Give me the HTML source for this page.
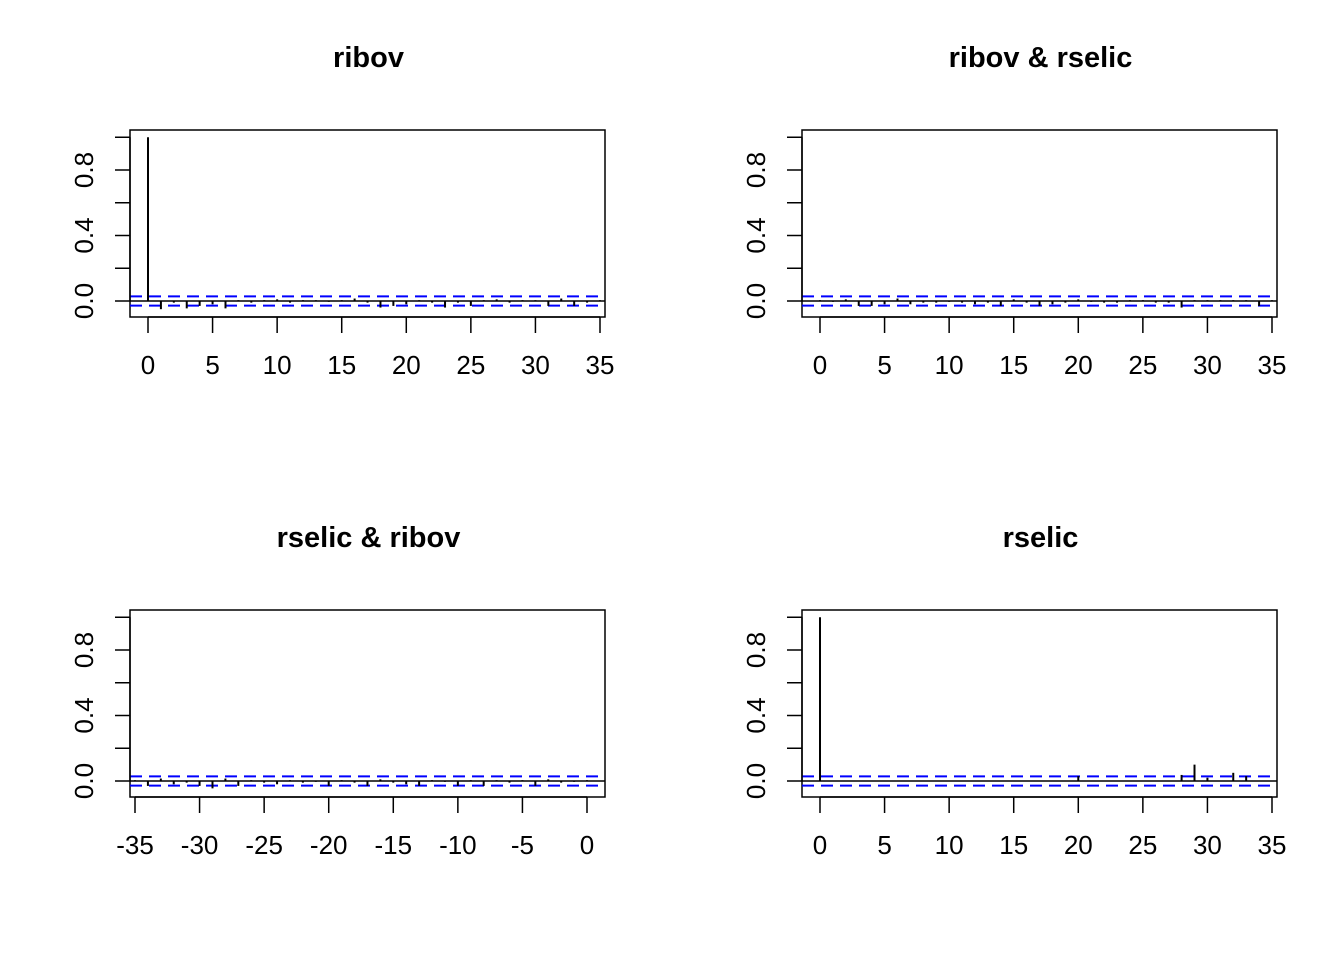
<!DOCTYPE html>
<html><head><meta charset="utf-8"><style>body{margin:0;background:#fff}svg{display:block}text{font-family:"Liberation Sans",Arial,sans-serif}</style></head>
<body>
<svg id="s" width="1344" height="960" xmlns="http://www.w3.org/2000/svg"></svg>
<script>
const titles=["ribov","ribov & rselic","rselic & ribov","rselic"];
const lagsPos=[0,1,2,3,4,5,6,7,8,9,10,11,12,13,14,15,16,17,18,19,20,21,22,23,24,25,26,27,28,29,30,31,32,33,34,35];
const lagsNeg=[-35,-34,-33,-32,-31,-30,-29,-28,-27,-26,-25,-24,-23,-22,-21,-20,-19,-18,-17,-16,-15,-14,-13,-12,-11,-10,-9,-8,-7,-6,-5,-4,-3,-2,-1,0];
const acfRibov=[1,-0.05,-0.01,-0.045,-0.03,-0.02,-0.045,0.005,-0.01,0.005,0.01,-0.01,0.005,0.005,-0.005,0.005,0.015,-0.01,-0.04,-0.03,-0.02,0.005,-0.01,-0.04,-0.01,-0.03,0.005,0.01,-0.01,0.005,0.005,-0.03,0.015,-0.03,-0.01,0.005];
const ccfRibovRselic=[0.005,-0.005,0.01,-0.03,-0.03,-0.02,0.015,-0.02,-0.01,-0.01,-0.005,-0.01,-0.02,-0.01,-0.03,0.01,-0.01,-0.03,-0.02,-0.01,0.01,-0.005,-0.01,-0.01,0.005,0.005,-0.01,-0.01,-0.04,0.005,0.005,0.005,0.005,0.005,-0.03,0.005];
const ccfRselicRibov=[0.005,-0.03,0.015,-0.02,-0.01,-0.03,-0.045,0.015,-0.03,0.005,-0.01,-0.02,0.005,-0.01,-0.005,-0.03,0.005,-0.01,-0.03,0.01,-0.01,-0.02,-0.03,0.005,-0.005,-0.03,0.005,-0.03,0.005,-0.01,0.005,-0.03,0.01,-0.01,-0.005,0.005];
const acfRselic=[1,0,0,0,0,0,0,0,0,0,0,0,0,0,0,0,0,0,0,0,0.03,0,0,0,0,0,0,0,0.037,0.1,0.02,0,0.05,0.03,0,0];
const yTicks=[0,0.2,0.4,0.6,0.8,1.0];
const yLabels=["0.0","","0.4","","0.8",""];
const xTicksPos=[0,5,10,15,20,25,30,35];
const xTicksNeg=[-35,-30,-25,-20,-15,-10,-5,0];
const ci=0.028;
const S=document.getElementById('s');const NS="http://www.w3.org/2000/svg";
function mk(t,a,p){const e=document.createElementNS(NS,t);for(const k in a)e.setAttribute(k,a[k]);(p||S).appendChild(e);return e;}
const panels=[{lags:lagsPos,vals:acfRibov,ticks:xTicksPos,ox:0,oy:0},{lags:lagsPos,vals:ccfRibovRselic,ticks:xTicksPos,ox:672,oy:0},{lags:lagsNeg,vals:ccfRselicRibov,ticks:xTicksNeg,ox:0,oy:480},{lags:lagsPos,vals:acfRselic,ticks:xTicksPos,ox:672,oy:480}];
panels.forEach((p,i)=>{
 const g=mk('g',{});
 
 
 const neg=p.lags[0]<0;const x0=neg?-35:0,x1=neg?0:35;
 const L=130+p.ox,R=605+p.ox,T=130+p.oy,B=317+p.oy;
 const pxL=neg?135+p.ox:148+p.ox,pxR=neg?587+p.ox:600+p.ox;
 const X=v=>pxL+(v-x0)/(x1-x0)*(pxR-pxL);
 const Y=v=>301+p.oy-v*163.75;
 const t=mk('text',{x:(L+R)/2+1,y:67+p.oy,'text-anchor':'middle','font-size':'29','font-weight':'bold'},g);t.textContent=titles[i];
 
 mk('rect',{x:L,y:T,width:R-L,height:B-T,fill:'none',stroke:'#000','stroke-width':1.5},g);
 mk('line',{x1:L,x2:R,y1:Y(0),y2:Y(0),stroke:'#000','stroke-width':1.5},g);
 [ci,-ci].forEach(c=>{const l=mk('line',{x1:L,x2:R,y1:Y(c),y2:Y(c),stroke:'#0000ff','stroke-width':2,'stroke-dasharray':'12,7'},g);});
 p.lags.forEach((lg,j)=>{const l=mk('line',{x1:X(lg),x2:X(lg),y1:Y(0),y2:Y(p.vals[j]),stroke:'#000','stroke-width':2},g);});
 mk('line',{x1:X(p.ticks[0]),x2:X(p.ticks[p.ticks.length-1]),y1:B,y2:B,stroke:'#000','stroke-width':1.5},g);
 p.ticks.forEach(v=>{mk('line',{x1:X(v),x2:X(v),y1:B,y2:B+16,stroke:'#000','stroke-width':1.5},g);const tx=mk('text',{x:X(v),y:B+57,'text-anchor':'middle','font-size':'26'},g);tx.textContent=v;});
 mk('line',{x1:L,x2:L,y1:Y(0),y2:Y(1),stroke:'#000','stroke-width':1.5},g);
 yTicks.forEach((v,k)=>{mk('line',{x1:L-15,x2:L,y1:Y(v),y2:Y(v),stroke:'#000','stroke-width':1.5},g);if(yLabels[k]){const tx=mk('text',{x:0,y:0,'text-anchor':'middle','font-size':'26',transform:`translate(${L-37},${Y(v)}) rotate(-90)`},g);tx.textContent=yLabels[k];}});
});
</script>
</body></html>
